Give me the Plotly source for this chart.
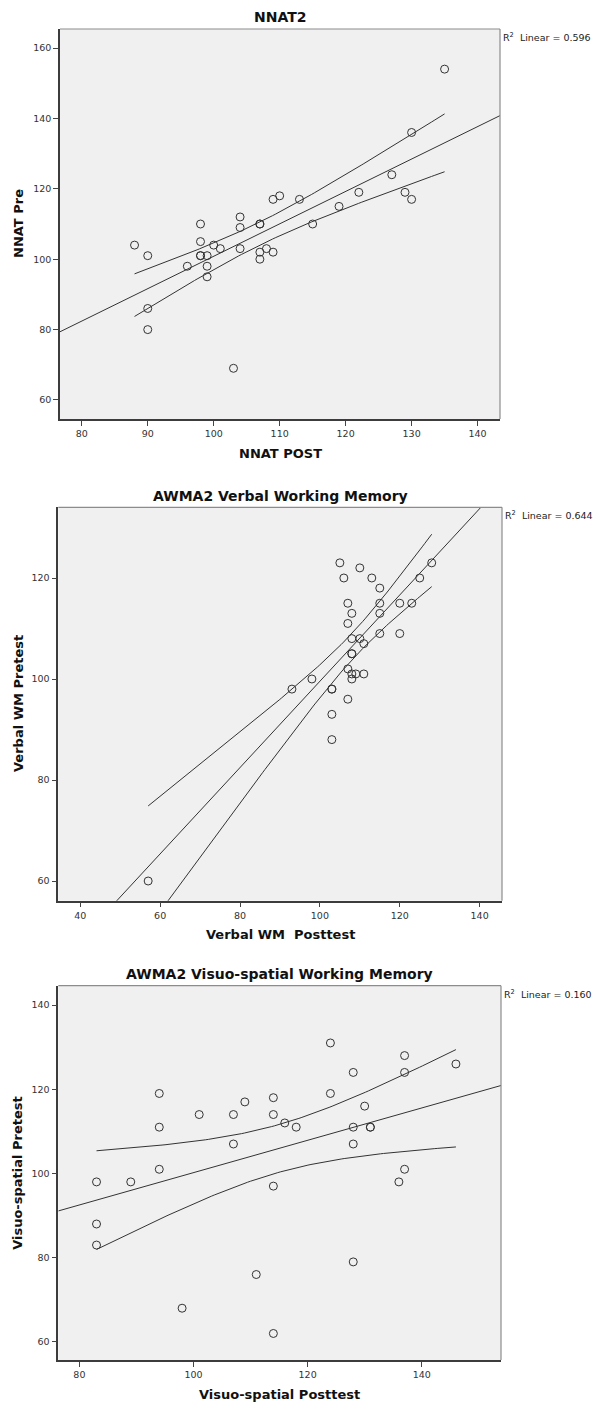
import math
import numpy as np
import plotly.graph_objects as go

W, H = 594, 1403

# ---------------- data ----------------
titles = ["NNAT2", "AWMA2 Verbal Working Memory", "AWMA2 Visuo-spatial Working Memory"]
x_titles = ["NNAT POST", "Verbal WM  Posttest", "Visuo-spatial Posttest"]
y_titles = ["NNAT Pre", "Verbal WM Pretest", "Visuo-spatial Pretest"]
r2_labels = ["0.596", "0.644", "0.160"]

nnat_post = [88, 90, 90, 90, 96, 98, 98, 98, 98, 99, 99, 99, 100, 101, 103, 104, 104, 104,
             107, 107, 107, 107, 108, 109, 109, 110, 113, 115, 119, 122, 127, 129, 130, 130, 135]
nnat_pre = [104, 101, 86, 80, 98, 110, 105, 101, 101, 101, 98, 95, 104, 103, 69, 112, 109, 103,
            110, 110, 102, 100, 103, 102, 117, 118, 117, 110, 115, 119, 124, 119, 117, 136, 154]

verbal_post = [57, 93, 98, 103, 103, 103, 103, 105, 106, 107, 107, 107, 107, 108, 108, 108, 108,
               108, 108, 109, 110, 110, 111, 111, 113, 115, 115, 115, 115, 120, 120, 123, 125, 128]
verbal_pre = [60, 98, 100, 98, 98, 93, 88, 123, 120, 115, 111, 102, 96, 113, 108, 105, 105,
              101, 100, 101, 122, 108, 107, 101, 120, 118, 115, 113, 109, 115, 109, 115, 120, 123]

visuo_post = [83, 83, 83, 89, 94, 94, 94, 98, 101, 107, 107, 109, 111, 114, 114, 114, 114, 116,
              118, 124, 124, 128, 128, 128, 128, 130, 131, 131, 136, 137, 137, 137, 146]
visuo_pre = [98, 88, 83, 98, 119, 111, 101, 68, 114, 114, 107, 117, 76, 118, 114, 97, 62, 112,
             111, 131, 119, 124, 111, 107, 79, 116, 111, 111, 98, 128, 124, 101, 126]

x_ranges = [[76.7, 143.4], [34.5, 145.6], [76.3, 153.9]]
y_ranges = [[54.6, 165.4], [56.1, 134.0], [55.7, 144.6]]
x_ticks = [[80, 90, 100, 110, 120, 130, 140], [40, 60, 80, 100, 120, 140], [80, 100, 120, 140]]
y_ticks = [[60, 80, 100, 120, 140, 160], [60, 80, 100, 120], [60, 80, 100, 120, 140]]

series = [(nnat_post, nnat_pre), (verbal_post, verbal_pre), (visuo_post, visuo_pre)]

# plot-area boxes in pixels: left, top, right, bottom
boxes = [(60, 29, 500, 419), (58.3, 507.3, 502, 900.7), (58.3, 985.7, 501, 1360)]


def t_crit(df, p=0.975):
    xs = np.linspace(-60, 60, 400001)
    c = math.exp(math.lgamma((df + 1) / 2) - math.lgamma(df / 2)) / math.sqrt(df * math.pi)
    pdf = c * (1 + xs ** 2 / df) ** (-(df + 1) / 2)
    cdf = np.cumsum(pdf) * (xs[1] - xs[0])
    return float(np.interp(p, cdf, xs))


ink = "#333333"
fig = go.Figure()
annotations = []
shapes = []
layout_axes = {}

for i, ((xv, yv), box) in enumerate(zip(series, boxes)):
    n = i + 1
    xa = "x" if n == 1 else f"x{n}"
    ya = "y" if n == 1 else f"y{n}"
    x = np.array(xv, float)
    y = np.array(yv, float)
    b, a = np.polyfit(x, y, 1)
    resid = y - (a + b * x)
    N = len(x)
    s = math.sqrt((resid ** 2).sum() / (N - 2))
    xbar = x.mean()
    sxx = ((x - xbar) ** 2).sum()
    t = t_crit(N - 2)

    # fit line across full axis
    xl = np.linspace(x_ranges[i][0], x_ranges[i][1], 50)
    fig.add_trace(go.Scatter(x=xl, y=a + b * xl, mode="lines", xaxis=xa, yaxis=ya,
                             line=dict(color=ink, width=1), showlegend=False, hoverinfo="skip"))
    xb = np.linspace(x.min(), x.max(), 120)
    se = s * np.sqrt(1 / N + (xb - xbar) ** 2 / sxx)
    for sign in (1, -1):
        fig.add_trace(go.Scatter(x=xb, y=a + b * xb + sign * t * se, mode="lines", xaxis=xa, yaxis=ya,
                                 line=dict(color=ink, width=1), showlegend=False, hoverinfo="skip"))
    fig.add_trace(go.Scatter(x=xv, y=yv, mode="markers", xaxis=xa, yaxis=ya, showlegend=False,
                             marker=dict(symbol="circle-open", size=8, color=ink, line=dict(width=1))))

    L, T, R, B = box
    axis_common = dict(showgrid=False, zeroline=False, showline=True, mirror=False,
                       linecolor="#3c3c3c", linewidth=1.5, ticks="outside", ticklen=5,
                       tickcolor="#444444", tickwidth=1,
                       tickfont=dict(family="DejaVu Sans", size=9.5, color="#333333"))
    layout_axes["xaxis" if n == 1 else f"xaxis{n}"] = dict(
        domain=[L / W, R / W], range=x_ranges[i], tickvals=x_ticks[i], anchor=ya, **axis_common)
    layout_axes["yaxis" if n == 1 else f"yaxis{n}"] = dict(
        domain=[1 - B / H, 1 - T / H], range=y_ranges[i], tickvals=y_ticks[i], anchor=xa, **axis_common)

    # lighter top/right frame edges
    shapes.append(dict(type="line", xref=f"{xa} domain", yref=f"{ya} domain", x0=0, x1=1, y0=1, y1=1,
                       line=dict(color="#8c8c8c", width=1.2)))
    shapes.append(dict(type="line", xref=f"{xa} domain", yref=f"{ya} domain", x0=1, x1=1, y0=0, y1=1,
                       line=dict(color="#8c8c8c", width=1.2)))

    cx = (L + R) / 2
    annotations.append(dict(text=f"<b>{titles[i]}</b>", x=cx / W, y=1 - (T - 11.5) / H,
                            xref="paper", yref="paper", showarrow=False, xanchor="center", yanchor="middle",
                            font=dict(family="DejaVu Sans", size=14, color="#111111")))
    annotations.append(dict(text=f"<b>{x_titles[i]}</b>", x=cx / W, y=1 - (B + 34) / H,
                            xref="paper", yref="paper", showarrow=False, xanchor="center", yanchor="middle",
                            font=dict(family="DejaVu Sans", size=13, color="#111111")))
    annotations.append(dict(text=f"<b>{y_titles[i]}</b>", x=18 / W, y=1 - ((T + B) / 2) / H,
                            xref="paper", yref="paper", showarrow=False, xanchor="center", yanchor="middle",
                            textangle=-90,
                            font=dict(family="DejaVu Sans", size=13, color="#111111")))
    annotations.append(dict(text=f"R<sup>2</sup>  Linear = {r2_labels[i]}", x=(R + 0.5) / W,
                            y=1 - (T + 8) / H,
                            xref="paper", yref="paper", showarrow=False, xanchor="left", yanchor="middle",
                            font=dict(family="DejaVu Sans", size=9.5, color="#222222")))

fig.update_layout(width=W, height=H, margin=dict(l=0, r=0, t=0, b=0),
                  paper_bgcolor="white", plot_bgcolor="#f0f0f0",
                  annotations=annotations, shapes=shapes, **layout_axes)

fig.write_html("out.html")
